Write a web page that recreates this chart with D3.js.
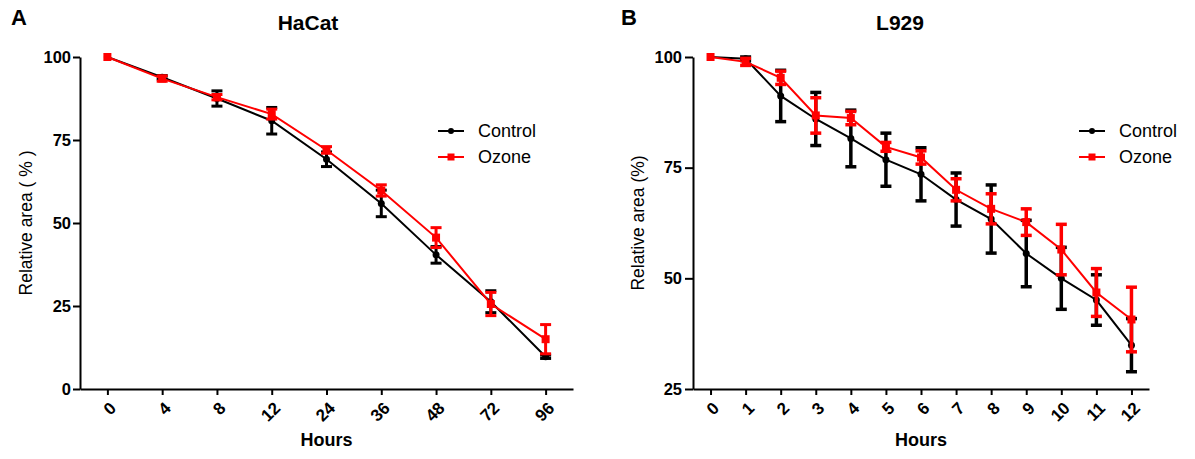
<!DOCTYPE html>
<html>
<head>
<meta charset="utf-8">
<script src="https://cdn.jsdelivr.net/npm/d3@7"></script>
<style>
  html, body { margin: 0; padding: 0; background: #fff; }
  svg { display: block; font-family: "Liberation Sans", Arial, sans-serif; }
</style>
</head>
<body>
<svg id="chart" width="1195" height="459"></svg>
<script>
// ---- Data: Panel A (HaCat) ----
const hacatHours = ["0", "4", "8", "12", "24", "36", "48", "72", "96"];
const hacatControl = [100, 93.9, 87.5, 80.8, 69.2, 55.9, 40.4, 26.3, 9.7];
const hacatControlErr = [0, 0.5, 2.3, 4.0, 2.2, 4.0, 2.5, 3.3, 0.5];
const hacatOzone = [100, 93.5, 87.9, 82.8, 72.0, 59.8, 45.6, 25.6, 15.0];
const hacatOzoneErr = [0, 0.8, 0.8, 1.5, 1.0, 1.7, 3.0, 3.5, 4.4];
const hacatYTicks = [0, 25, 50, 75, 100];

// ---- Data: Panel B (L929) ----
const l929Hours = ["0", "1", "2", "3", "4", "5", "6", "7", "8", "9", "10", "11", "12"];
const l929Control = [100, 99.6, 91.2, 86.0, 81.6, 76.8, 73.5, 67.8, 63.4, 55.6, 50.0, 45.1, 34.9];
const l929ControlErr = [0, 0.4, 5.8, 6.0, 6.4, 6.0, 6.0, 6.0, 7.7, 7.5, 7.0, 5.7, 6.0];
const l929Ozone = [100, 98.9, 95.3, 86.8, 86.2, 79.7, 77.3, 70.0, 65.7, 62.7, 56.5, 46.8, 40.7];
const l929OzoneErr = [0, 0.8, 1.5, 4.0, 1.5, 1.0, 1.5, 2.5, 3.4, 3.0, 5.7, 5.4, 7.3];
const l929YTicks = [25, 50, 75, 100];

const seriesNames = ["Control", "Ozone"];
const seriesColors = ["#000000", "#ff0000"];

const svg = d3.select("#chart");

function drawPanel(cfg) {
  const g = svg.append("g");
  const x = d3.scalePoint().domain(cfg.cats).range([cfg.x0, cfg.x1]).padding(0.5);
  const y = d3.scaleLinear().domain(cfg.yDomain).range([389, 57]);

  // Y axis
  const yAxis = g.append("g")
    .attr("transform", `translate(${cfg.x0},0)`)
    .call(d3.axisLeft(y).tickValues(cfg.yTicks).tickSize(cfg.tickLen).tickSizeOuter(0).tickPadding(cfg.tickPad));
  yAxis.select(".domain").attr("stroke-width", 2);
  yAxis.selectAll(".tick line").attr("stroke-width", 2);
  yAxis.selectAll(".tick text")
    .attr("font-size", 16.5).attr("font-weight", "bold").attr("fill", "#000")
    .attr("font-family", "Liberation Sans, Arial, sans-serif");

  // X axis
  const xAxis = g.append("g")
    .attr("transform", `translate(0,389)`)
    .call(d3.axisBottom(x).tickSize(6).tickSizeOuter(0));
  xAxis.select(".domain").attr("stroke-width", 2);
  xAxis.selectAll(".tick line").attr("stroke-width", 2);
  xAxis.selectAll(".tick text")
    .attr("font-size", 17).attr("font-weight", "bold").attr("fill", "#000")
    .attr("font-family", "Liberation Sans, Arial, sans-serif")
    .attr("text-anchor", "end")
    .attr("y", 0).attr("dy", "0.35em")
    .attr("transform", "translate(5,16) rotate(-45)");

  const series = [
    { m: cfg.ctrl, e: cfg.ctrlErr, color: seriesColors[0], shape: "circle" },
    { m: cfg.ozone, e: cfg.ozoneErr, color: seriesColors[1], shape: "square" }
  ];

  series.forEach(s => {
    const pts = cfg.cats.map((c, i) => ({ c, m: s.m[i], e: s.e[i] }));
    // error bars
    const eb = g.append("g").attr("stroke", s.color).attr("stroke-width", cfg.ebWidth);
    pts.filter(p => p.e > 0).forEach(p => {
      const cx = x(p.c);
      eb.append("line").attr("x1", cx).attr("x2", cx).attr("y1", y(p.m - p.e)).attr("y2", y(p.m + p.e));
      eb.append("line").attr("x1", cx - 5.5).attr("x2", cx + 5.5).attr("y1", y(p.m + p.e)).attr("y2", y(p.m + p.e));
      eb.append("line").attr("x1", cx - 5.5).attr("x2", cx + 5.5).attr("y1", y(p.m - p.e)).attr("y2", y(p.m - p.e));
    });
    // line
    g.append("path").datum(pts)
      .attr("fill", "none").attr("stroke", s.color).attr("stroke-width", 2)
      .attr("d", d3.line().x(p => x(p.c)).y(p => y(p.m)));
    // markers
    if (s.shape === "circle") {
      g.append("g").selectAll("circle").data(pts).join("circle")
        .attr("cx", p => x(p.c)).attr("cy", p => y(p.m)).attr("r", 3.5).attr("fill", s.color);
    } else {
      g.append("g").selectAll("rect").data(pts).join("rect")
        .attr("x", p => x(p.c) - 4).attr("y", p => y(p.m) - 4).attr("width", 8).attr("height", 8).attr("fill", s.color);
    }
  });

  // Axis titles
  g.append("text").attr("x", (cfg.x0 + cfg.x1) / 2).attr("y", 446)
    .attr("text-anchor", "middle").attr("font-size", 18).attr("font-weight", "bold").text("Hours");
  g.append("text").attr("transform", `translate(${cfg.yLabelX},223) rotate(-90)`)
    .attr("text-anchor", "middle").attr("font-size", 17.5).text(cfg.yLabel);

  // Title and panel letter
  g.append("text").attr("x", cfg.titleX).attr("y", 30)
    .attr("text-anchor", "middle").attr("font-size", 21).attr("font-weight", "bold").text(cfg.title);
  g.append("text").attr("x", cfg.letterX).attr("y", 25)
    .attr("font-size", 22).attr("font-weight", "bold").text(cfg.letter);

  // Legend
  const lg = g.append("g").attr("transform", `translate(${cfg.legendX},0)`);
  series.forEach((s, i) => {
    const ly = 131 + i * 26;
    lg.append("line").attr("x1", 0).attr("x2", 26).attr("y1", ly).attr("y2", ly)
      .attr("stroke", s.color).attr("stroke-width", 2);
    if (s.shape === "circle") {
      lg.append("circle").attr("cx", 13).attr("cy", ly).attr("r", 3).attr("fill", s.color);
    } else {
      lg.append("rect").attr("x", 9.5).attr("y", ly - 3.5).attr("width", 7).attr("height", 7).attr("fill", s.color);
    }
    lg.append("text").attr("x", 40).attr("y", ly).attr("dy", "0.35em")
      .attr("font-size", 18).text(seriesNames[i]);
  });
}

drawPanel({
  cats: hacatHours, ctrl: hacatControl, ctrlErr: hacatControlErr,
  ozone: hacatOzone, ozoneErr: hacatOzoneErr,
  yDomain: [0, 100], yTicks: hacatYTicks,
  x0: 80, x1: 573, tickLen: 7, tickPad: 2, ebWidth: 3,
  yLabel: "Relative area ( % )", yLabelX: 32,
  title: "HaCat", titleX: 308, letter: "A", letterX: 11,
  legendX: 438
});

drawPanel({
  cats: l929Hours, ctrl: l929Control, ctrlErr: l929ControlErr,
  ozone: l929Ozone, ozoneErr: l929OzoneErr,
  yDomain: [25, 100], yTicks: l929YTicks,
  x0: 693, x1: 1149, tickLen: 8, tickPad: 3, ebWidth: 3.5,
  yLabel: "Relative area (%)", yLabelX: 644,
  title: "L929", titleX: 900, letter: "B", letterX: 621,
  legendX: 1079
});
</script>
</body>
</html>
